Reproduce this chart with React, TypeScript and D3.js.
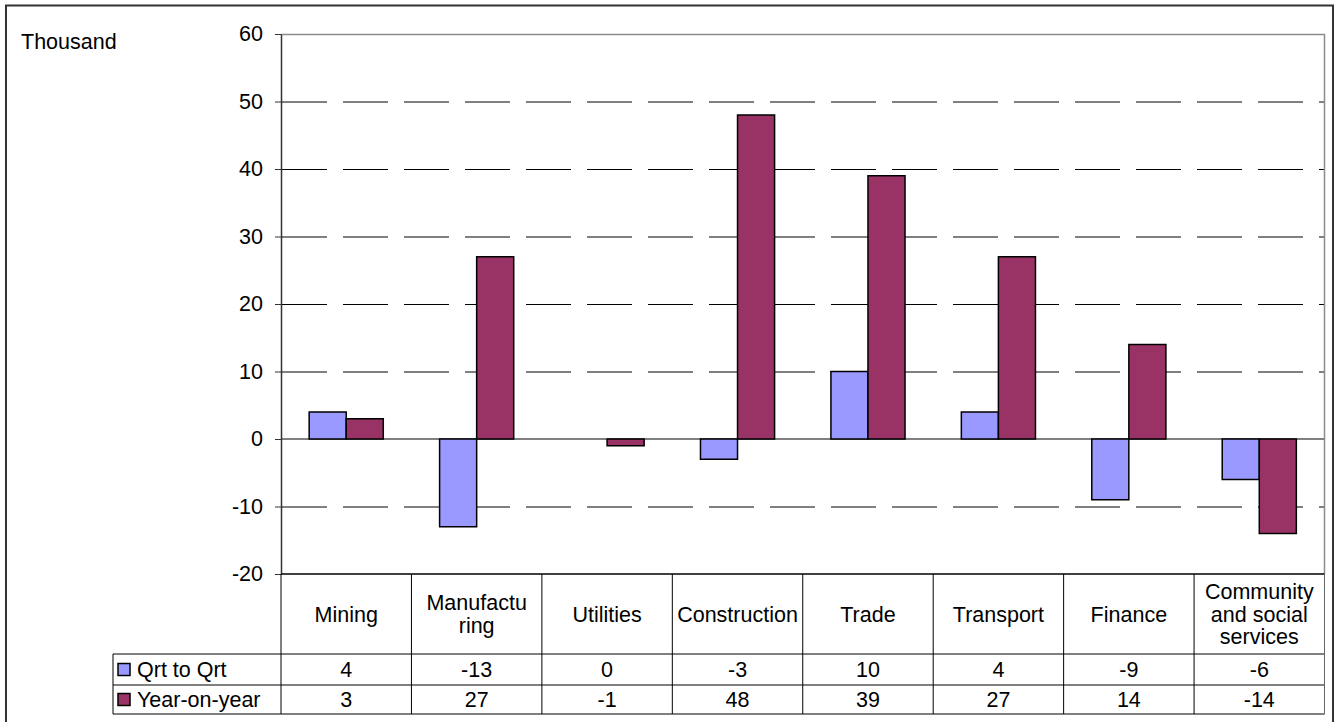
import React, { useEffect, useRef } from "react";
import * as d3 from "d3";

const categories = ["Mining", "Manufacturing", "Utilities", "Construction", "Trade", "Transport", "Finance", "Community and social services"];
const categoryLines = [["Mining"], ["Manufactu", "ring"], ["Utilities"], ["Construction"], ["Trade"], ["Transport"], ["Finance"], ["Community", "and social", "services"]];
const seriesNames = ["Qrt to Qrt", "Year-on-year"];
const qrtToQrt = [4, -13, 0, -3, 10, 4, -9, -6];
const yearOnYear = [3, 27, -1, 48, 39, 27, 14, -14];
const seriesColors = ["#9999FF", "#993366"];
const yTicks = [-20, -10, 0, 10, 20, 30, 40, 50, 60];

const App = (): JSX.Element => {
    const ref = useRef<SVGSVGElement>(null);
    const width = 1337;
    const height = 722;
    const plot = { left: 281, right: 1324.5, top: 34, bottom: 574 };
    const table = { left: 113, row1: 654, row2: 685, bottom: 714 };
    const font = "Liberation Sans, Arial, sans-serif";
    const fs = 21.5;

    useEffect(() => {
        if (!ref.current) return;
        const svg = d3.select(ref.current);
        svg.selectAll("*").remove();

        const series = [qrtToQrt, yearOnYear];

        const y = d3.scaleLinear().domain([-20, 60]).range([plot.bottom, plot.top]);
        const x = d3.scaleBand().domain(categories).range([plot.left, plot.right]).padding(0);
        const xs = d3.scaleBand().domain(seriesNames).range([0, x.bandwidth()]).paddingInner(0).paddingOuter(0.76);

        // outer frame
        svg.append("rect")
            .attr("x", 6).attr("y", 5.5).attr("width", 1327).attr("height", 730)
            .attr("fill", "none").attr("stroke", "#333").attr("stroke-width", 2);

        // dashed gridlines
        svg.append("g")
            .selectAll("line")
            .data(yTicks.filter((t) => t !== 0 && t !== 60 && t !== -20))
            .join("line")
            .attr("x1", plot.left + 1).attr("x2", plot.right)
            .attr("y1", (d) => y(d) + 0.5).attr("y2", (d) => y(d) + 0.5)
            .attr("stroke", "#000").attr("stroke-width", 1)
            .attr("stroke-dasharray", "45,16");

        // plot border top/right
        svg.append("path")
            .attr("d", `M${plot.left},${y(60) + 0.5}H${plot.right}V${plot.bottom}`)
            .attr("fill", "none").attr("stroke", "#8c8c8c").attr("stroke-width", 1.5);

        // zero line
        svg.append("line")
            .attr("x1", plot.left).attr("x2", plot.right)
            .attr("y1", y(0)).attr("y2", y(0))
            .attr("stroke", "#808080").attr("stroke-width", 2);

        // bars
        series.forEach((vals, si) => {
            svg.append("g")
                .selectAll("rect")
                .data(vals)
                .join("rect")
                .attr("x", (d, i) => (x(categories[i]) as number) + (xs(seriesNames[si]) as number))
                .attr("width", xs.bandwidth())
                .attr("y", (d) => y(Math.max(0, d)))
                .attr("height", (d) => Math.abs(y(d) - y(0)))
                .attr("fill", seriesColors[si])
                .attr("stroke", "#000")
                .attr("stroke-width", 1.5)
                .style("display", (d) => (d === 0 ? "none" : null));
        });

        // y axis
        const yAxis = d3.axisLeft(y).tickValues(yTicks).tickFormat((d) => String(d)).tickSize(6).tickPadding(12).tickSizeOuter(0);
        const ga = svg.append("g").attr("transform", `translate(${plot.left},0)`).call(yAxis);
        ga.select(".domain").attr("stroke", "#333").attr("stroke-width", 1.5);
        ga.selectAll(".tick line").attr("stroke", "#333");
        ga.selectAll(".tick text").attr("font-family", font).attr("font-size", fs).attr("fill", "#000");

        svg.append("text")
            .attr("x", 21).attr("y", 49)
            .attr("font-family", font).attr("font-size", fs)
            .text("Thousand");

        // data table
        const tg = svg.append("g").attr("stroke", "#000").attr("stroke-width", 1);
        tg.append("line").attr("x1", plot.left).attr("x2", plot.right).attr("y1", plot.bottom).attr("y2", plot.bottom).attr("stroke-width", 1.5);
        [table.row1, table.row2, table.bottom].forEach((ry) => {
            tg.append("line").attr("x1", table.left).attr("x2", plot.right).attr("y1", ry).attr("y2", ry);
        });
        tg.append("line").attr("x1", table.left).attr("x2", table.left).attr("y1", table.row1).attr("y2", table.bottom);
        categories.forEach((c) => {
            const cx = x(c) as number;
            tg.append("line").attr("x1", cx).attr("x2", cx).attr("y1", plot.bottom).attr("y2", table.bottom);
        });
        tg.append("line").attr("x1", plot.right).attr("x2", plot.right).attr("y1", plot.bottom).attr("y2", table.bottom).attr("stroke", "#666");

        // category labels
        const lh = 22.5;
        categoryLines.forEach((lines, i) => {
            const cx = (x(categories[i]) as number) + x.bandwidth() / 2;
            const mid = (plot.bottom + table.row1) / 2;
            lines.forEach((ln, k) => {
                svg.append("text")
                    .attr("x", cx)
                    .attr("y", mid + (k - (lines.length - 1) / 2) * lh)
                    .attr("dy", "0.35em")
                    .attr("text-anchor", "middle")
                    .attr("font-family", font).attr("font-size", fs)
                    .text(ln);
            });
        });

        // value rows
        const rowMids = [(table.row1 + table.row2) / 2, (table.row2 + table.bottom) / 2];
        series.forEach((vals, si) => {
            svg.append("g")
                .selectAll("text")
                .data(vals)
                .join("text")
                .attr("x", (d, i) => (x(categories[i]) as number) + x.bandwidth() / 2)
                .attr("y", rowMids[si])
                .attr("dy", "0.35em")
                .attr("text-anchor", "middle")
                .attr("font-family", font).attr("font-size", fs)
                .text((d) => d);
            svg.append("rect")
                .attr("x", table.left + 5).attr("y", rowMids[si] - 6)
                .attr("width", 12).attr("height", 12)
                .attr("fill", seriesColors[si]).attr("stroke", "#000").attr("stroke-width", 1.5);
            svg.append("text")
                .attr("x", table.left + 24).attr("y", rowMids[si])
                .attr("dy", "0.35em")
                .attr("font-family", font).attr("font-size", fs)
                .text(seriesNames[si]);
        });
    }, []);

    return (
        <div style={{ position: "absolute", left: 0, top: 0 }}>
            <svg ref={ref} width={width} height={height} viewBox={`0 0 ${width} ${height}`} style={{ display: "block", background: "#fff" }} />
        </div>
    );
};

export default App;
